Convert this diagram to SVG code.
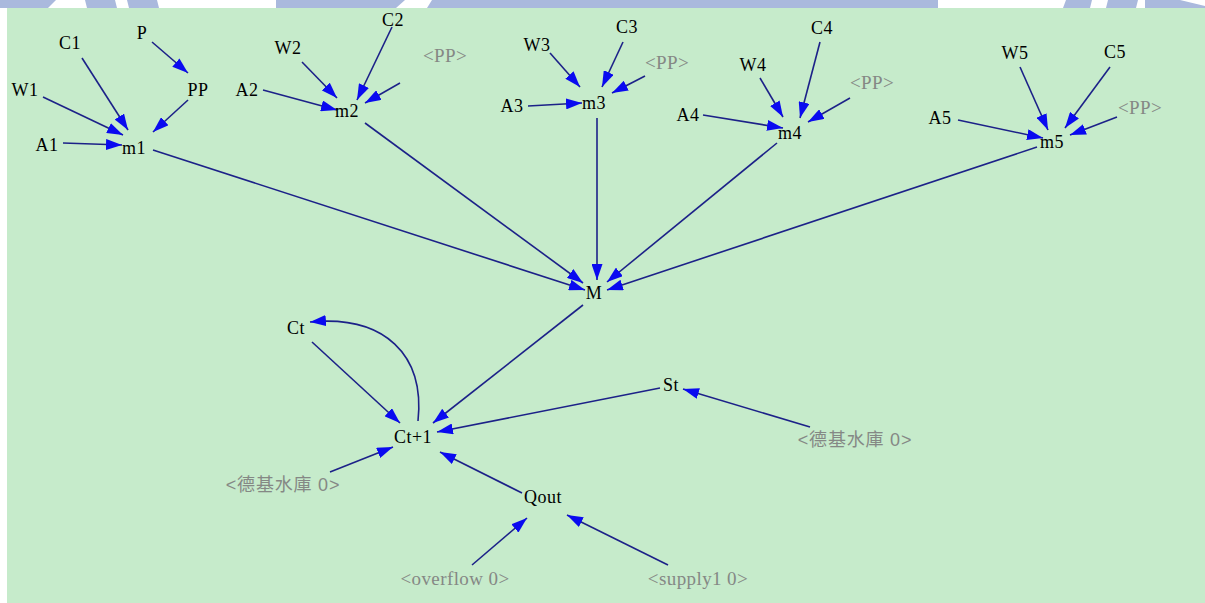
<svg xmlns="http://www.w3.org/2000/svg" width="1205" height="603" viewBox="0 0 1205 603">
  <style>
    .lbl { font-family: "Liberation Serif", "Times New Roman", serif; font-size: 18px; letter-spacing: 0.5px; fill: #000; text-anchor: middle; dominant-baseline: central; }
    .shadow { font-family: "Liberation Serif", "Times New Roman", serif; font-size: 19px; letter-spacing: 0.4px; fill: #858885; text-anchor: middle; dominant-baseline: central; }
    .cjk { font-family: "Liberation Sans", "Noto Sans CJK TC", sans-serif; font-size: 18px; letter-spacing: 0.8px; fill: #858885; text-anchor: middle; dominant-baseline: central; }
    .link { stroke: #1c2188; stroke-width: 1.6; fill: none; marker-end: url(#head); }
    .band { fill: #aab9dd; }
  </style>
  <defs>
    <marker id="head" markerUnits="userSpaceOnUse" markerWidth="17" markerHeight="11" refX="16" refY="5.5" orient="auto">
      <path d="M0,0 L16,5.5 L0,11 z" fill="#0a0af0"/>
    </marker>
  </defs>

  <!-- page header strip -->
  <rect x="0" y="0" width="1205" height="8" fill="#ffffff"/>
  <polygon class="band" points="0,0 56,0 48,8 0,8"/>
  <polygon class="band" points="85,0 115,0 117,8 87,8"/>
  <polygon class="band" points="127,0 157,0 159,8 129,8"/>
  <polygon class="band" points="276,0 405,0 396,8 276,8"/>
  <polygon class="band" points="432,0 938,0 938,8 427,8"/>
  <polygon class="band" points="1066,0 1092,0 1090,8 1063,8"/>
  <polygon class="band" points="1108,0 1138,0 1136,8 1106,8"/>
  <polygon class="band" points="1145,0 1180,0 1205,6 1205,8 1145,8"/>

  <!-- canvas -->
  <rect x="7" y="8" width="1198" height="595" fill="#c6ebcb"/>

  <!-- connectors -->
  <g id="links">
    <line class="link" x1="152" y1="42" x2="188" y2="73"/>
    <line class="link" x1="188" y1="100" x2="153" y2="132"/>
    <line class="link" x1="82" y1="58" x2="128" y2="130"/>
    <line class="link" x1="43" y1="97" x2="123" y2="135"/>
    <line class="link" x1="63" y1="143" x2="122" y2="145"/>
    <line class="link" x1="153" y1="150" x2="585" y2="290"/>

    <line class="link" x1="302" y1="62" x2="337" y2="98"/>
    <line class="link" x1="392" y1="27" x2="357" y2="100"/>
    <line class="link" x1="400" y1="83" x2="365" y2="103"/>
    <line class="link" x1="263" y1="90" x2="337" y2="110"/>
    <line class="link" x1="365" y1="123" x2="583" y2="283"/>

    <line class="link" x1="550" y1="53" x2="580" y2="87"/>
    <line class="link" x1="623" y1="42" x2="602" y2="87"/>
    <line class="link" x1="645" y1="76" x2="612" y2="93"/>
    <line class="link" x1="528" y1="106" x2="582" y2="103"/>
    <line class="link" x1="597" y1="118" x2="597" y2="280"/>

    <line class="link" x1="760" y1="78" x2="783" y2="117"/>
    <line class="link" x1="820" y1="42" x2="800" y2="118"/>
    <line class="link" x1="850" y1="98" x2="808" y2="122"/>
    <line class="link" x1="703" y1="115" x2="783" y2="128"/>
    <line class="link" x1="777" y1="143" x2="607" y2="282"/>

    <line class="link" x1="1020" y1="67" x2="1048" y2="130"/>
    <line class="link" x1="1110" y1="67" x2="1065" y2="128"/>
    <line class="link" x1="1117" y1="117" x2="1070" y2="135"/>
    <line class="link" x1="958" y1="120" x2="1043" y2="138"/>
    <line class="link" x1="1037" y1="147" x2="607" y2="290"/>

    <line class="link" x1="583" y1="305" x2="433" y2="423"/>
    <line class="link" x1="312" y1="342" x2="400" y2="423"/>
    <path class="link" d="M418,421 C425,355 385,315 310,322"/>
    <line class="link" x1="660" y1="388" x2="437" y2="432"/>
    <line class="link" x1="810" y1="427" x2="683" y2="389"/>
    <line class="link" x1="330" y1="472" x2="393" y2="447"/>
    <line class="link" x1="522" y1="493" x2="440" y2="452"/>
    <line class="link" x1="472" y1="565" x2="527" y2="518"/>
    <line class="link" x1="668" y1="565" x2="567" y2="515"/>
  </g>

  <!-- nodes -->
  <g id="n-P"><text class="lbl" x="142" y="33">P</text></g>
  <g id="n-PP"><text class="lbl" x="198" y="90">PP</text></g>
  <g id="n-C1"><text class="lbl" x="70" y="43">C1</text></g>
  <g id="n-W1"><text class="lbl" x="25" y="90">W1</text></g>
  <g id="n-A1"><text class="lbl" x="47" y="145">A1</text></g>
  <g id="n-m1"><text class="lbl" x="134" y="148">m1</text></g>

  <g id="n-W2"><text class="lbl" x="288" y="48">W2</text></g>
  <g id="n-C2"><text class="lbl" x="393" y="20">C2</text></g>
  <g id="n-PP2"><text class="shadow" x="445" y="55">&lt;PP&gt;</text></g>
  <g id="n-A2"><text class="lbl" x="247" y="90">A2</text></g>
  <g id="n-m2"><text class="lbl" x="347" y="111">m2</text></g>

  <g id="n-W3"><text class="lbl" x="537" y="45">W3</text></g>
  <g id="n-C3"><text class="lbl" x="627" y="27">C3</text></g>
  <g id="n-PP3"><text class="shadow" x="667" y="62">&lt;PP&gt;</text></g>
  <g id="n-A3"><text class="lbl" x="512" y="106">A3</text></g>
  <g id="n-m3"><text class="lbl" x="594" y="103">m3</text></g>

  <g id="n-W4"><text class="lbl" x="753" y="65">W4</text></g>
  <g id="n-C4"><text class="lbl" x="822" y="28">C4</text></g>
  <g id="n-PP4"><text class="shadow" x="872" y="82">&lt;PP&gt;</text></g>
  <g id="n-A4"><text class="lbl" x="688" y="115">A4</text></g>
  <g id="n-m4"><text class="lbl" x="790" y="133">m4</text></g>

  <g id="n-W5"><text class="lbl" x="1015" y="53">W5</text></g>
  <g id="n-C5"><text class="lbl" x="1115" y="52">C5</text></g>
  <g id="n-PP5"><text class="shadow" x="1140" y="107">&lt;PP&gt;</text></g>
  <g id="n-A5"><text class="lbl" x="940" y="118">A5</text></g>
  <g id="n-m5"><text class="lbl" x="1052" y="142">m5</text></g>

  <g id="n-M"><text class="lbl" x="594" y="293">M</text></g>
  <g id="n-Ct"><text class="lbl" x="296" y="328">Ct</text></g>
  <g id="n-Ct1"><text class="lbl" x="413" y="437">Ct+1</text></g>
  <g id="n-St"><text class="lbl" x="671" y="385">St</text></g>
  <g id="n-dam1"><text class="cjk" x="855" y="440">&lt;德基水庫 0&gt;</text></g>
  <g id="n-dam2"><text class="cjk" x="283" y="485">&lt;德基水庫 0&gt;</text></g>
  <g id="n-Qout"><text class="lbl" x="543" y="497">Qout</text></g>
  <g id="n-overflow"><text class="shadow" x="455" y="578">&lt;overflow 0&gt;</text></g>
  <g id="n-supply"><text class="shadow" x="698" y="578">&lt;supply1 0&gt;</text></g>
</svg>
